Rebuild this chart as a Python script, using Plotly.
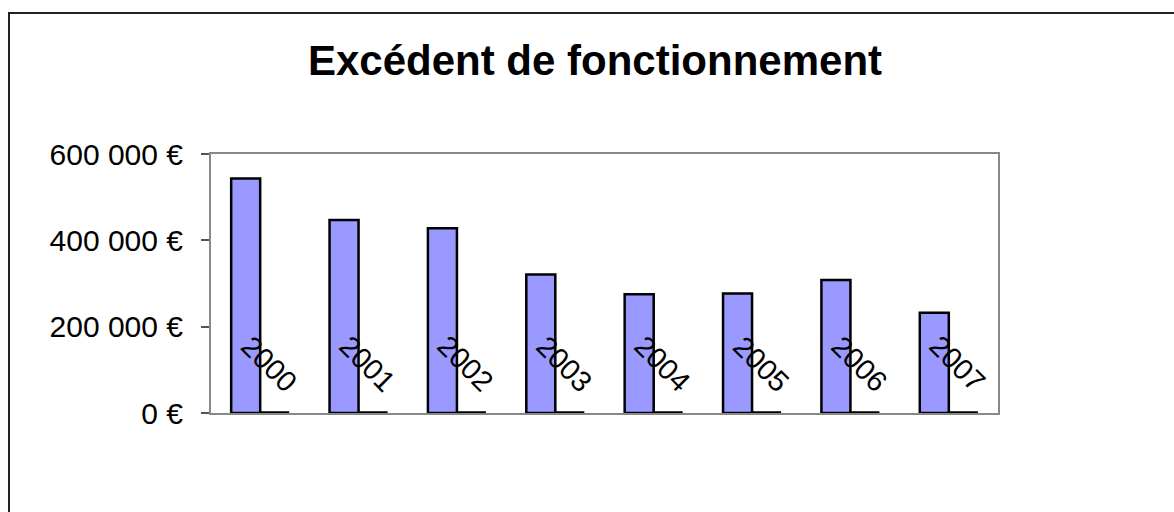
import plotly.graph_objects as go

years = ["2000", "2001", "2002", "2003", "2004", "2005", "2006", "2007"]
excedent = [543000, 447000, 428000, 321000, 275000, 277000, 308000, 232000]
second_series = [0, 0, 0, 0, 0, 0, 0, 0]
tick_values = [0, 200000, 400000, 600000]
tick_labels = ["0 €", "200 000 €", "400 000 €", "600 000 €"]
title_text = "Excédent de fonctionnement"

W, H = 1174, 512
L, R, T, B = 211, 176, 154, 99
pw = W - L - R
ph = H - T - B

fig = go.Figure()
fig.add_trace(go.Bar(
    x=years, y=excedent,
    marker=dict(color="#9999FF", line=dict(color="black", width=2.5)),
    showlegend=False,
))
fig.add_trace(go.Bar(
    x=years, y=second_series,
    marker=dict(color="black", line=dict(color="black", width=3.5)),
    showlegend=False,
))

for i, yr in enumerate(years):
    fig.add_annotation(
        x=i, xref="x", y=0, yref="paper",
        text=yr, showarrow=False, textangle=45,
        xanchor="center", yanchor="middle",
        xshift=9, yshift=49,
        font=dict(family="Liberation Sans, Arial", size=29, color="black"),
    )

# outer chart border (top and left visible)
fig.add_shape(
    type="rect", xref="paper", yref="paper",
    x0=(9 - L) / pw, x1=(W + 10 - L) / pw,
    y0=-(H + 10 - (T + ph)) / ph, y1=(T + ph - 13) / ph,
    line=dict(color="#222", width=2), fillcolor="rgba(0,0,0,0)", layer="below",
)

fig.update_layout(
    width=W, height=H,
    margin=dict(l=L, r=R, t=T, b=B),
    paper_bgcolor="white", plot_bgcolor="white",
    barmode="group", bargap=0.41, bargroupgap=0,
    title=dict(text="<b>" + title_text + "</b>", x=595 / W, xanchor="center",
               y=1 - 60 / H, yanchor="middle",
               font=dict(family="Liberation Sans, Arial", size=42, color="black")),
    xaxis=dict(type="category", range=[-0.5, len(years) - 0.5],
               showticklabels=False, ticks="", showgrid=False,
               showline=True, mirror=True, linecolor="#888", linewidth=2),
    yaxis=dict(range=[0, 600000], tickvals=tick_values, ticktext=tick_labels,
               ticks="outside", ticklen=8, tickcolor="#555", tickwidth=1.5,
               ticklabelstandoff=12,
               showgrid=False, zeroline=False,
               showline=True, mirror=True, linecolor="#888", linewidth=2,
               tickfont=dict(family="Liberation Sans, Arial", size=30, color="black")),
)

fig.write_html("out.html", config={"displayModeBar": False},
               post_script="document.body.style.margin='0';document.body.style.overflow='hidden';")
